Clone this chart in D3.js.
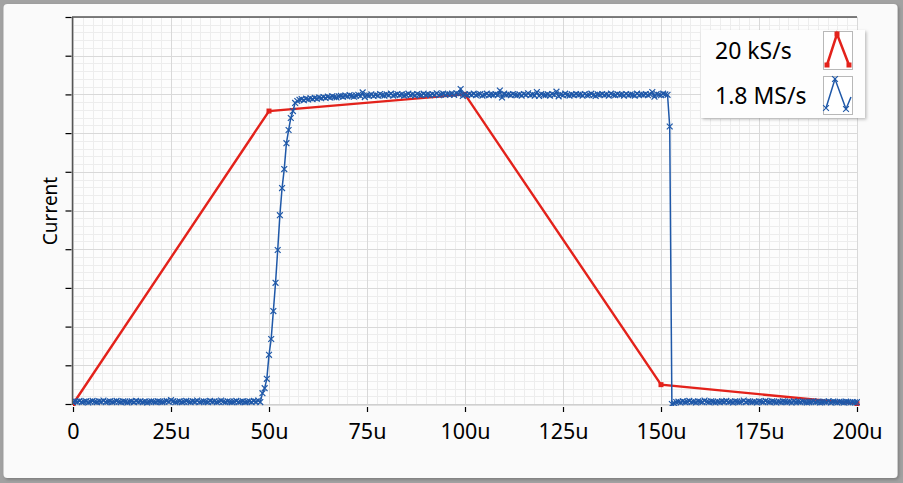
<!DOCTYPE html>
<html><head><meta charset="utf-8">
<script src="https://cdn.jsdelivr.net/npm/d3@7"></script>
<style>
html,body{margin:0;padding:0;background:#a2a2a2;}
svg{display:block;}
text{font-family:"Noto Sans",sans-serif;fill:#000;}
</style></head>
<body>
<svg id="chart" width="903" height="483"></svg>
<script>
// ---------- data ----------
const xTickValues = [0, 25, 50, 75, 100, 125, 150, 175, 200];
const xTickLabels = ["0", "25u", "50u", "75u", "100u", "125u", "150u", "175u", "200u"];
const yTickValues = [0,1,2,3,4,5,6,7,8,9,10];
const yLabel = "Current";
const seriesNames = ["20 kS/s", "1.8 MS/s"];

// 20 kS/s series (time in µs)
const redTimes = [0, 50, 100, 150, 200];
const redValues = [0, 7.57, 8.0, 0.5, 0.01];

// 1.8 MS/s series: one sample every 1/1.8 µs
const blueRate = 1.8;
const blueLow1 = [
0.05,0.07,0.06,0.08,0.05,0.06,0.07,0.04,0.06,0.08,
0.06,0.05,0.07,0.06,0.09,0.05,0.06,0.07,0.05,0.06,
0.08,0.06,0.05,0.07,0.06,0.04,0.06,0.07,0.05,0.08,
0.06,0.07,0.05,0.06,0.04,0.06,0.07,0.06,0.05,0.07,
0.06,0.05,0.06,0.08,0.06,0.10,0.07,0.05,0.06,0.07,
0.05,0.06,0.08,0.06,0.05,0.07,0.06,0.09,0.05,0.06,
0.07,0.06,0.05,0.08,0.06,0.07,0.05,0.06,0.09,0.06,
0.05,0.07,0.06,0.05,0.06,0.08,0.05,0.06,0.07,0.05,
0.06,0.07,0.05,0.08,0.06,0.09];
const blueRise = [0.05,0.28,0.41,0.65,1.27,1.68,2.40,3.13,3.98,4.88,5.58,6.07,6.74,7.08,7.39,7.57,7.78,7.83];
const bluePlateau = [
7.86,7.88,7.85,7.89,7.87,7.90,7.88,7.91,7.89,7.92,
7.90,7.93,7.91,7.94,7.92,7.95,7.93,7.92,7.95,7.96,
7.94,7.97,7.95,7.98,7.96,7.94,7.97,7.99,7.96,8.05,
7.93,7.98,7.97,8.00,7.96,7.99,7.97,8.01,7.98,7.97,
8.00,7.98,8.02,7.97,7.99,8.01,7.98,8.00,7.97,7.99,
8.02,7.98,8.00,7.97,8.01,7.99,7.98,8.02,7.99,8.00,
7.98,8.01,7.99,8.03,7.98,8.00,8.02,7.99,8.01,8.00,
8.02,7.99,8.03,8.01,8.14,7.96,8.00,7.98,8.01,7.99,
8.02,7.98,8.00,8.01,7.97,7.99,8.02,7.98,8.00,7.99,
8.01,7.98,8.10,7.92,8.02,7.99,8.00,7.98,8.01,7.99,
7.98,8.00,7.97,8.01,7.99,8.03,7.98,8.00,7.97,8.06,
7.96,8.01,7.99,7.98,8.00,7.97,8.01,7.99,8.07,7.95,
8.00,7.98,8.02,7.99,7.97,8.00,7.98,8.01,7.99,8.00,
7.97,8.01,7.98,7.99,8.02,7.98,7.96,8.00,7.99,8.01,
7.98,8.00,7.97,8.02,7.99,7.98,8.01,7.99,8.00,7.97,
8.01,7.98,8.00,7.99,7.97,8.02,7.98,8.00,7.99,8.01,
7.98,8.00,8.06,7.94,8.01,7.99,7.98,8.02,8.00,7.99];
const blueFall = [7.17, 0.00];
const blueLow2 = [
0.02,0.05,0.06,0.04,0.07,0.05,0.06,0.08,0.05,0.06,
0.04,0.07,0.06,0.05,0.09,0.06,0.05,0.07,0.06,0.04,
0.06,0.05,0.07,0.06,0.08,0.05,0.06,0.04,0.07,0.06,
0.05,0.06,0.09,0.05,0.07,0.06,0.05,0.06,0.04,0.07,
0.06,0.05,0.08,0.06,0.05,0.07,0.06,0.04,0.06,0.05,
0.07,0.06,0.05,0.06,0.04,0.07,0.05,0.06,0.05,0.07,
0.06,0.04,0.05,0.06,0.07,0.05,0.06,0.04,0.05,0.06,
0.05,0.07,0.04,0.06,0.05,0.04,0.06,0.05,0.04,0.06,
0.05,0.04,0.05,0.04,0.05];

// ---------- build ----------
const blueValues = [].concat(blueLow1, blueRise, bluePlateau, blueFall, blueLow2);
const bluePts = blueValues.map((v,i)=>({t:i/blueRate, v}));
const redPts = redTimes.map((t,i)=>({t, v:redValues[i]}));

const RED = "#e3221b", BLUE = "#1f58a8";
const svg = d3.select("#chart");
const L = 73, R = 857, T = 17, B = 404;
const x = d3.scaleLinear().domain([0,200]).range([L,R]);
const y = d3.scaleLinear().domain([0,10]).range([B,T]);

// defs
const defs = svg.append("defs");
const f = defs.append("filter").attr("id","sh").attr("x","-10%").attr("y","-10%").attr("width","130%").attr("height","130%");
f.append("feDropShadow").attr("dx",1.5).attr("dy",1.5).attr("stdDeviation",1.5).attr("flood-color","#000").attr("flood-opacity",0.25);
defs.append("clipPath").attr("id","clip").append("rect").attr("x",L).attr("y",T-3).attr("width",R-L+3).attr("height",B-T+5);

// panel
svg.append("rect").attr("x",3.5).attr("y",4).attr("width",894).attr("height",474).attr("rx",4)
  .attr("fill","#fafafa").attr("filter","url(#sh)");

// plot bg
svg.append("rect").attr("x",L).attr("y",T).attr("width",R-L).attr("height",B-T).attr("fill","#fdfdfd");

// grid
const g = svg.append("g");
const minorX = d3.range(0,200.01,2.5), minorY = d3.range(0,10.01,0.2);
g.selectAll(".mx").data(minorX).join("line").attr("x1",d=>Math.round(x(d))+0.5).attr("x2",d=>Math.round(x(d))+0.5)
  .attr("y1",T).attr("y2",B).attr("stroke","#ededed").attr("stroke-width",1);
g.selectAll(".my").data(minorY).join("line").attr("y1",d=>Math.round(y(d))+0.5).attr("y2",d=>Math.round(y(d))+0.5)
  .attr("x1",L).attr("x2",R).attr("stroke","#ededed").attr("stroke-width",1);
g.selectAll(".Mx").data(xTickValues).join("line").attr("x1",d=>Math.round(x(d))+0.5).attr("x2",d=>Math.round(x(d))+0.5)
  .attr("y1",T).attr("y2",B).attr("stroke","#d9d9d9").attr("stroke-width",1);
g.selectAll(".My").data(yTickValues).join("line").attr("y1",d=>Math.round(y(d))+0.5).attr("y2",d=>Math.round(y(d))+0.5)
  .attr("x1",L).attr("x2",R).attr("stroke","#d9d9d9").attr("stroke-width",1);

// frame lines
svg.append("line").attr("x1",L-0.5).attr("x2",L-0.5).attr("y1",T).attr("y2",B+1).attr("stroke","#555").attr("stroke-width",1.5);
svg.append("line").attr("x1",L-1).attr("x2",R).attr("y1",T).attr("y2",T).attr("stroke","#555").attr("stroke-width",1.5);
svg.append("line").attr("x1",L).attr("x2",R).attr("y1",B+1).attr("y2",B+1).attr("stroke","#c4c4c4").attr("stroke-width",1);

// y axis ticks (no labels)
const yAxis = d3.axisLeft(y).tickValues(yTickValues).tickSize(6).tickFormat("");
const ya = svg.append("g").attr("transform",`translate(${L-1.5},0)`).call(yAxis);
ya.select(".domain").remove();
ya.selectAll("line").attr("stroke","#000").attr("stroke-width",1.2);

// x axis
const xAxis = d3.axisBottom(x).tickValues(xTickValues).tickSize(5).tickPadding(12)
  .tickFormat((d,i)=>xTickLabels[i]);
const xa = svg.append("g").attr("transform",`translate(0,${B+3})`).call(xAxis);
xa.select(".domain").remove();
xa.selectAll("line").attr("stroke","#000").attr("stroke-width",1.2);
xa.selectAll("text").attr("font-size",21.5).attr("font-family","Noto Sans").attr("fill","#000").attr("dy","0.69em");

// y label
svg.append("text").attr("transform","translate(57,211) rotate(-90)").attr("text-anchor","middle")
  .attr("font-size",19).text(yLabel);

// series
const plot = svg.append("g").attr("clip-path","url(#clip)");
const line = d3.line().x(d=>x(d.t)).y(d=>y(d.v));
plot.append("path").datum(redPts).attr("d",line).attr("fill","none").attr("stroke",RED).attr("stroke-width",2.4);
plot.selectAll(".rm").data(redPts).join("rect").attr("x",d=>x(d.t)-2.5).attr("y",d=>y(d.v)-2.5)
  .attr("width",5).attr("height",5).attr("fill",RED);
plot.append("path").datum(bluePts).attr("d",line).attr("fill","none").attr("stroke",BLUE).attr("stroke-width",1.5);
const xm = d3.symbol().type(d3.symbolX).size(24);
plot.selectAll(".bm").data(bluePts).join("path").attr("d",xm)
  .attr("transform",d=>`translate(${x(d.t)},${y(d.v)})`).attr("stroke",BLUE).attr("stroke-width",1.2).attr("fill","none");

// legend
const lg = svg.append("g");
lg.append("rect").attr("x",701).attr("y",30).attr("width",164).attr("height",88).attr("fill","#fdfdfd").attr("filter","url(#sh)");
const rows = [{name:seriesNames[0], color:RED, y:31},{name:seriesNames[1], color:BLUE, y:76}];
rows.forEach((r,i)=>{
  lg.append("text").attr("x",715).attr("y",r.y+28).attr("font-size",23).text(r.name);
  lg.append("rect").attr("x",823.5).attr("y",r.y+0.5).attr("width",29).attr("height",38).attr("fill","#fff").attr("stroke","#b8b8b8");
  if(i===0){
    const pts = [[827,r.y+34],[837,r.y+3],[849,r.y+34]];
    lg.append("path").attr("d",d3.line()(pts)).attr("fill","none").attr("stroke",r.color).attr("stroke-width",2.5);
    pts.forEach(p=>lg.append("rect").attr("x",p[0]-2.5).attr("y",p[1]-2.5).attr("width",5).attr("height",5).attr("fill",r.color));
  } else {
    const pts = [[826,r.y+32],[835,r.y+3],[846,r.y+33],[851,r.y+21]];
    lg.append("path").attr("d",d3.line()(pts)).attr("fill","none").attr("stroke",r.color).attr("stroke-width",1.5);
    pts.slice(0,3).forEach(p=>lg.append("path").attr("d",xm).attr("transform",`translate(${p[0]},${p[1]})`)
      .attr("stroke",r.color).attr("stroke-width",1.1).attr("fill","none"));
  }
});
</script>
</body></html>
